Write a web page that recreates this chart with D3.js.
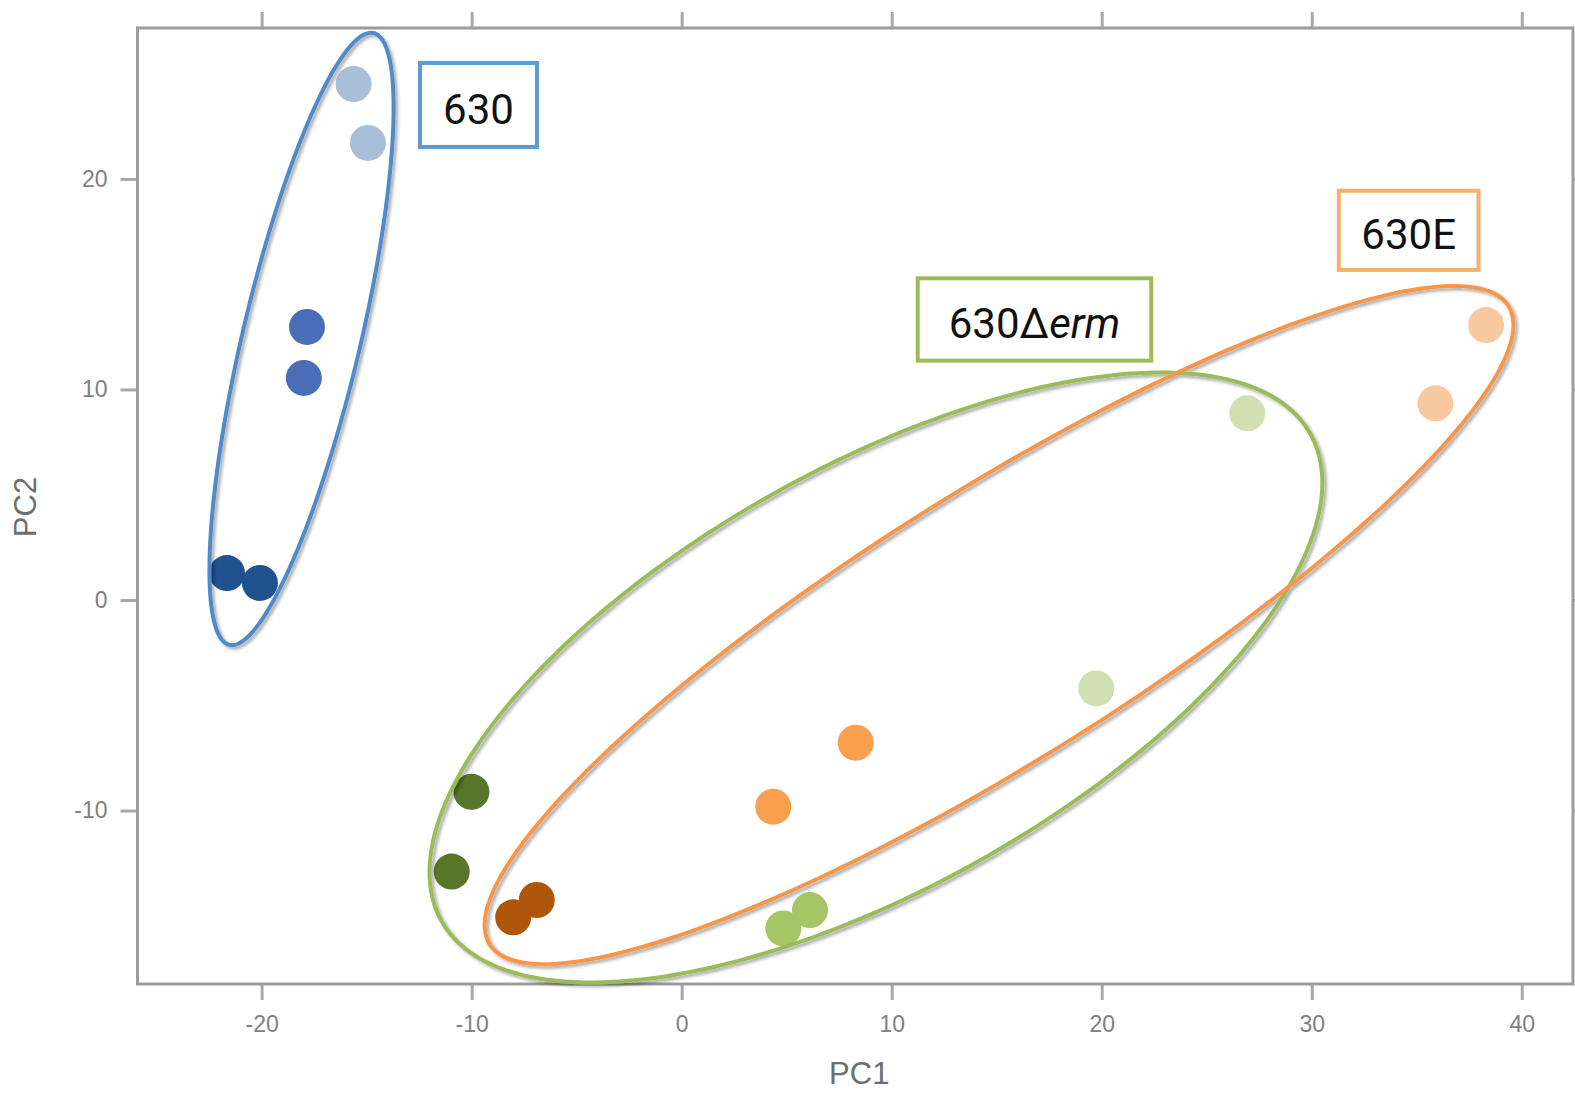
<!DOCTYPE html>
<html>
<head>
<meta charset="utf-8">
<script src="https://cdn.jsdelivr.net/npm/d3@7"></script>
<style>
  html, body { margin: 0; padding: 0; background: #fff; }
  svg { display: block; }
</style>
</head>
<body>
<svg id="chart" width="1575" height="1099"></svg>
<script>
// PCA scores: PC1 / PC2 for each sample, grouped by strain and time point
const strain630_x   = [-15.62, -14.94, -17.84, -17.99, -21.65, -20.08];
const strain630_y   = [ 24.51,  21.71,  12.97,  10.55,   1.28,   0.81];
const strain630_lvl = [0, 0, 1, 1, 2, 2];

const strainErm_x   = [ 26.93,  19.74,   4.84,   6.11, -10.01, -10.95];
const strainErm_y   = [  8.87,  -4.20, -15.60, -14.73,  -9.11, -12.90];
const strainErm_lvl = [0, 0, 1, 1, 2, 2];

const strainE_x     = [ 38.30,  35.89,   4.36,   8.29,  -8.02,  -6.90];
const strainE_y     = [ 13.06,   9.34,  -9.82,  -6.78, -15.07, -14.25];
const strainE_lvl   = [0, 0, 1, 1, 2, 2];

// Group labels
const groupNames = ["630", "630Δerm", "630E"];

// Confidence ellipses (data units): centre, semi-axes, rotation in degrees
const ellipseCx    = [-18.10,  9.25, 15.11];
const ellipseCy    = [ 12.40, -3.68, -1.19];
const ellipseA     = [ 14.93, 23.70, 28.60];
const ellipseB     = [  2.80, 10.00,  6.43];
const ellipseAngle = [ 76.7,  29.2,  32.0];

// Label boxes (data units): left, right, top, bottom
const boxX0 = [-12.46, 11.24, 31.29];
const boxX1 = [ -6.89, 22.36, 37.94];
const boxY0 = [ 25.51, 15.28, 19.44];
const boxY1 = [ 21.52, 11.37, 15.68];

// Axis ticks
const xTicks = [-20, -10, 0, 10, 20, 30, 40];
const yTicks = [-10, 0, 10, 20];

// Colours: per group, light -> dark
const pointColors = [
  ["#a9bfd8", "#4a6db8", "#1f528f"],
  ["#cfe0b2", "#a6c566", "#56762a"],
  ["#f8c9a1", "#f9a04e", "#b0560a"]
];
const ellipseColors = ["#4f8acb", "#9bbb59", "#f7964a"];
const boxColors     = ["#5b9bd5", "#9bbb59", "#f8ae6c"];

const svg = d3.select("#chart");

const x = d3.scaleLinear().domain([-25.91, 42.44]).range([137.5, 1573]);
const y = d3.scaleLinear().domain([-18.24, 27.17]).range([984, 28]);

// Plain hyphen for negative tick labels
const tickFmt = d => String(d);

// Drop shadow used by the ellipse outlines
const defs = svg.append("defs");
const sh = defs.append("filter").attr("id", "shadow")
  .attr("x", "-10%").attr("y", "-10%").attr("width", "120%").attr("height", "120%");
sh.append("feDropShadow").attr("dx", 2.5).attr("dy", 2.5)
  .attr("stdDeviation", 1.6).attr("flood-color", "#000").attr("flood-opacity", 0.33);

// Plot frame
const axisColor = "#9c9c9c";
const [xl, xr] = x.range();
const [yb, yt] = y.range();

// Axes with outward ticks on all four sides
const axisStyle = g => {
  g.select(".domain").remove();
  g.selectAll(".tick line").attr("stroke", "#a8a8a8").attr("stroke-width", 3);
  g.selectAll(".tick text").attr("fill", "#808080")
    .style("font-family", "'Liberation Sans', Arial, sans-serif").style("font-size", "23px");
};

svg.append("g").attr("transform", `translate(0,${yb})`)
  .call(d3.axisBottom(x).tickValues(xTicks).tickSize(16).tickPadding(16).tickFormat(tickFmt))
  .call(axisStyle);
svg.append("g").attr("transform", `translate(0,${yt})`)
  .call(d3.axisTop(x).tickValues(xTicks).tickSize(16).tickFormat(""))
  .call(axisStyle);
svg.append("g").attr("transform", `translate(${xl},0)`)
  .call(d3.axisLeft(y).tickValues(yTicks).tickSize(17).tickPadding(13).tickFormat(tickFmt))
  .call(axisStyle);
svg.append("g").attr("transform", `translate(${xr},0)`)
  .call(d3.axisRight(y).tickValues(yTicks).tickSize(16).tickFormat(""))
  .call(axisStyle);

svg.append("rect")
  .attr("x", xl).attr("y", yt).attr("width", xr - xl).attr("height", yb - yt)
  .attr("fill", "none").attr("stroke", axisColor).attr("stroke-width", 3);

// Axis titles
svg.append("text")
  .attr("x", (xl + xr) / 2 + 4).attr("y", 1084)
  .attr("text-anchor", "middle")
  .attr("fill", "#6e6e6e")
  .style("font-family", "'Liberation Sans', Arial, sans-serif").style("font-size", "31px")
  .text("PC1");
svg.append("text")
  .attr("transform", `translate(36,${(yt + yb) / 2 + 1}) rotate(-90)`)
  .attr("text-anchor", "middle")
  .attr("fill", "#6e6e6e")
  .style("font-family", "'Liberation Sans', Arial, sans-serif").style("font-size", "31px")
  .text("PC2");

// Points
const groupsData = [
  strain630_x.map((v, i) => ({ x: v, y: strain630_y[i], lvl: strain630_lvl[i], g: 0 })),
  strainErm_x.map((v, i) => ({ x: v, y: strainErm_y[i], lvl: strainErm_lvl[i], g: 1 })),
  strainE_x.map((v, i) => ({ x: v, y: strainE_y[i], lvl: strainE_lvl[i], g: 2 }))
];

svg.append("g").selectAll("circle")
  .data(groupsData.flat())
  .join("circle")
  .attr("cx", d => x(d.x))
  .attr("cy", d => y(d.y))
  .attr("r", 18)
  .attr("fill", d => pointColors[d.g][d.lvl]);

// Ellipses, traced in data space and projected through the scales
const ellipsePts = i => {
  const th = ellipseAngle[i] * Math.PI / 180;
  return d3.range(0, 360, 2).map(deg => {
    const t = deg * Math.PI / 180;
    const ex = ellipseA[i] * Math.cos(t), ey = ellipseB[i] * Math.sin(t);
    return [ellipseCx[i] + ex * Math.cos(th) - ey * Math.sin(th),
            ellipseCy[i] + ex * Math.sin(th) + ey * Math.cos(th)];
  });
};
const outline = d3.line().x(p => x(p[0])).y(p => y(p[1])).curve(d3.curveCardinalClosed);

svg.append("g").attr("filter", "url(#shadow)")
  .selectAll("path")
  .data(d3.range(groupNames.length))
  .join("path")
  .attr("d", i => outline(ellipsePts(i)))
  .attr("fill", "none")
  .attr("stroke", i => ellipseColors[i])
  .attr("stroke-width", 4);

// Group label boxes
const labels = svg.append("g").selectAll("g")
  .data(d3.range(groupNames.length))
  .join("g");

labels.append("rect")
  .attr("x", i => x(boxX0[i]))
  .attr("y", i => y(boxY0[i]))
  .attr("width", i => x(boxX1[i]) - x(boxX0[i]))
  .attr("height", i => y(boxY1[i]) - y(boxY0[i]))
  .attr("fill", "#fff")
  .attr("stroke", i => boxColors[i])
  .attr("stroke-width", 4);

labels.append("text")
  .attr("x", i => (x(boxX0[i]) + x(boxX1[i])) / 2)
  .attr("y", i => (y(boxY0[i]) + y(boxY1[i])) / 2 + 19)
  .attr("text-anchor", "middle")
  .attr("fill", "#111")
  .style("font-family", "Roboto, 'Noto Sans', sans-serif")
  .style("font-size", "42px")
  .each(function(i) {
    const t = d3.select(this);
    const name = groupNames[i];
    const k = name.indexOf("Δ");
    if (k >= 0) {
      t.append("tspan").text(name.slice(0, k + 1));
      t.append("tspan").style("font-style", "italic").text(name.slice(k + 1));
    } else {
      t.text(name);
    }
  });
</script>
</body>
</html>
